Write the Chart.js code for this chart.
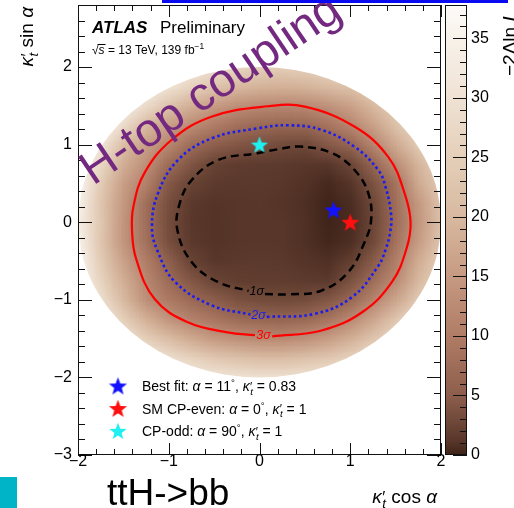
<!DOCTYPE html>
<html>
<head>
<meta charset="utf-8">
<script src="https://cdn.jsdelivr.net/npm/chart.js@4.4.0/dist/chart.umd.min.js"></script>
<style>
html, body { margin: 0; padding: 0; background: #fff; overflow: hidden; }
#wrap { position: relative; width: 514px; height: 508px; }
</style>
</head>
<body>
<div id="wrap"><canvas id="c" width="514" height="508"></canvas></div>
<script>
const FONT = '"Liberation Sans", Arial, Helvetica, sans-serif';

// -2ΔlnL scan grid: columns are κ't cos α, rows are κ't sin α (top row first)
const gridCos = [-2, -1.75, -1.5, -1.25, -1, -0.75, -0.5, -0.25, 0, 0.25, 0.5, 0.75, 1, 1.25, 1.5, 1.75, 2];
const gridSin = [2, 1.75, 1.5, 1.25, 1, 0.75, 0.5, 0.25, 0, -0.25, -0.5, -0.75, -1, -1.25, -1.5, -1.75, -2];
const nllRows = [
  [40, 40, 40, 38, 35, 32, 29, 26.5, 25, 24.5, 25.5, 27, 29.5, 32, 35, 38, 40],
  [40, 40, 38, 34, 30, 26, 22.5, 20, 19, 18.5, 19, 20.5, 22, 25, 29, 33, 37],
  [40, 38, 34, 28, 22, 18, 15, 13, 12, 11.7, 12, 13.5, 16, 20, 25, 30, 35],
  [40, 37, 28, 20, 15.5, 12.5, 9.8, 7.8, 6.8, 6.3, 6.6, 8.5, 11.5, 16, 22, 28, 34],
  [38, 31, 21, 15.5, 11.5, 7.3, 5.0, 4.2, 3.6, 3.1, 2.8, 4.4, 6.2, 11.4, 17.5, 24, 30],
  [37, 27, 18, 13, 7.3, 4.0, 2.2, 1.7, 1.6, 1.5, 1.3, 1.2, 2.6, 6.3, 12.8, 19.5, 26],
  [36, 24, 15.5, 10.5, 4.3, 2.3, 1.5, 1.4, 1.4, 1.3, 0.9, 0.4, 1.1, 3.8, 8.5, 17.5, 24],
  [35, 22.5, 14.5, 7.6, 3.4, 1.4, 1.1, 1.2, 1.3, 1.1, 0.7, 0.15, 0.6, 2.9, 7.8, 14.8, 22.5],
  [34, 23, 14, 7.5, 3.2, 1.3, 1.0, 1.2, 1.3, 1.2, 0.8, 0.1, 0.5, 2.7, 7.5, 14.5, 22],
  [35, 22.5, 14, 8, 3.4, 1.4, 1.0, 1.2, 1.3, 1.2, 0.8, 0.25, 0.7, 3.0, 8.5, 15.5, 23],
  [36, 24, 16, 10, 5.2, 2.3, 1.3, 1.4, 1.5, 1.4, 1.1, 0.8, 2.0, 4.8, 10.5, 18, 25],
  [37, 26, 18, 11.8, 7.2, 4.2, 2.5, 1.9, 1.8, 1.8, 1.6, 1.5, 3.8, 7.6, 12.6, 20, 27],
  [38, 29, 20, 13.2, 9.5, 7.0, 5.0, 3.8, 3.3, 3.1, 3.3, 4.3, 6.8, 11.5, 17, 24, 31],
  [40, 33, 25, 18.5, 14, 11, 8.8, 7.4, 6.6, 6.4, 7.0, 8.8, 12.3, 17, 23, 30, 36],
  [40, 37, 31, 25, 21, 17.5, 15, 13.5, 12.5, 12.4, 13.5, 15.5, 18.5, 23, 28, 34, 38],
  [40, 40, 37, 33, 29, 26, 23.5, 22, 21, 21, 22, 23.5, 26, 30, 34, 38, 40],
  [40, 40, 40, 38, 35, 33, 31.5, 30.5, 30, 30, 30.5, 32, 34.5, 37, 40, 40, 40]
];
const kappaMax = 2;

// colour scale of -2ΔlnL
const zStops  = [0, 1, 2.5, 5, 10, 15, 20, 25, 30, 35, 37.8];
const zColors = ['#3e2218', '#553428', '#6a4536', '#8d5e4c', '#b07c66', '#c69a82', '#d8b9a0', '#e5cfb9', '#efe2d3', '#f8f2ea', '#fdfbf8'];

// tick labels
const xTicks = [-2, -1, 0, 1, 2];
const yTicks = [-3, -2, -1, 0, 1, 2];
const zTicks = [0, 5, 10, 15, 20, 25, 30, 35];

// confidence contours (κ't cos α, κ't sin α)
const sigma1 = [[0.06,-0.925],[0.32,-0.93],[0.685,-0.88],[0.98,-0.64],[1.16,-0.25],[1.23,0.03],[1.2,0.37],[1.05,0.67],[0.8,0.89],[0.45,0.975],[0.2,0.94],[-0.02,0.89],[-0.46,0.8],[-0.75,0.54],[-0.88,0.24],[-0.905,-0.1],[-0.75,-0.51],[-0.46,-0.77],[-0.12,-0.885]];
const sigma2 = [[0.08,-1.22],[0.61,-1.18],[1.02,-0.965],[1.31,-0.56],[1.39,-0.35],[1.44,-0.125],[1.45,0.1],[1.39,0.45],[1.31,0.67],[1.05,0.97],[0.685,1.19],[0.32,1.25],[-0.02,1.21],[-0.53,1.08],[-0.9,0.8],[-1.12,0.37],[-1.185,-0.06],[-1.12,-0.38],[-0.93,-0.77],[-0.53,-1.07],[-0.1,-1.19]];
const sigma3 = [[0.14,-1.47],[0.685,-1.395],[1.13,-1.16],[1.46,-0.77],[1.62,-0.34],[1.665,0.0],[1.6,0.37],[1.42,0.84],[1.05,1.23],[0.5,1.49],[0.09,1.495],[-0.53,1.36],[-0.97,1.06],[-1.27,0.63],[-1.39,0.2],[-1.405,-0.1],[-1.36,-0.47],[-1.155,-0.99],[-0.79,-1.29],[-0.35,-1.42],[-0.05,-1.455]];
const contourLabels = [
  { text: '1σ', x: -0.03, y: -0.895, color: '#000000' },
  { text: '2σ', x: -0.01, y: -1.205, color: '#1c1cf0' },
  { text: '3σ', x: 0.045, y: -1.46, color: '#ff0000' }
];

// reference points: mixing angle (degrees) and coupling modifier
const bestFit = { alpha: 11, kappa: 0.83 };
const smEven  = { alpha: 0,  kappa: 1 };
const cpOdd   = { alpha: 90, kappa: 1 };

function polar(p) {
  const a = p.alpha * Math.PI / 180;
  return { x: p.kappa * Math.cos(a), y: p.kappa * Math.sin(a) };
}
const toXY = arr => arr.map(([x, y]) => ({ x, y }));

function hexRgb(h) { return [1, 3, 5].map(i => parseInt(h.substr(i, 2), 16)); }
const zRgb = zColors.map(hexRgb);
function zColor(v) {
  v = Math.max(zStops[0], Math.min(zStops[zStops.length - 1], v));
  let k = 0;
  while (k < zStops.length - 2 && v > zStops[k + 1]) k++;
  const t = (v - zStops[k]) / (zStops[k + 1] - zStops[k]);
  return zRgb[k].map((c, i) => Math.round(c + (zRgb[k + 1][i] - c) * t));
}

function starImage(color, r) {
  const s = Math.ceil(2 * r + 4);
  const c = document.createElement('canvas');
  c.width = c.height = s;
  const g = c.getContext('2d');
  g.translate(s / 2, s / 2 + r * 0.08);
  g.beginPath();
  for (let k = 0; k < 10; k++) {
    const rad = k % 2 ? r * 0.42 : r;
    const a = -Math.PI / 2 + k * Math.PI / 5;
    g.lineTo(rad * Math.cos(a), rad * Math.sin(a));
  }
  g.closePath();
  g.fillStyle = color;
  g.fill();
  return c;
}
const starBlue = starImage('#1212ff', 9.5);
const starRed = starImage('#ff1010', 9.5);
const starCyan = starImage('#20f0f0', 9);

// text made of styled pieces: {t, i(talic), b(old), s(cale), dy, dx, na (no advance)}
function drawRich(ctx, parts, x, y, size, align) {
  const items = parts.map(p => {
    const s = size * (p.s || 1);
    const font = (p.i ? 'italic ' : '') + (p.b ? 'bold ' : '') + s.toFixed(1) + 'px ' + FONT;
    ctx.font = font;
    const w = ctx.measureText(p.t).width;
    return { t: p.t, font, w, dy: (p.dy || 0) * size, dx: (p.dx || 0) * size, na: !!p.na };
  });
  const total = items.reduce((acc, it) => acc + (it.na ? 0 : it.w + it.dx), 0);
  let cx = align === 'right' ? x - total : align === 'center' ? x - total / 2 : x;
  ctx.textAlign = 'left';
  for (const it of items) {
    ctx.font = it.font;
    ctx.fillText(it.t, cx + it.dx, y + it.dy);
    if (!it.na) cx += it.w + it.dx;
  }
}
const kappaT = [
  { t: 'κ', i: 1 },
  { t: '′', s: 0.85, dy: -0.02, dx: 0.02, na: 1 },
  { t: 't', i: 1, s: 0.7, dy: 0.28, dx: 0.03 }
];
const fmt = v => (v < 0 ? '\u2212' + Math.abs(v) : String(v));

const heatmapPlugin = {
  id: 'nllMap',
  beforeDatasetsDraw(chart) {
    const { ctx, chartArea: a, scales: { x, y } } = chart;
    const nx = gridCos.length, ny = gridSin.length;
    const off = document.createElement('canvas');
    off.width = nx; off.height = ny;
    const g = off.getContext('2d');
    const img = g.createImageData(nx, ny);
    for (let j = 0; j < ny; j++) {
      for (let i = 0; i < nx; i++) {
        const c = zColor(nllRows[j][i]);
        const k = 4 * (j * nx + i);
        img.data[k] = c[0]; img.data[k + 1] = c[1]; img.data[k + 2] = c[2]; img.data[k + 3] = 255;
      }
    }
    g.putImageData(img, 0, 0);
    const hx = (gridCos[1] - gridCos[0]) / 2;
    const hy = (gridSin[0] - gridSin[1]) / 2;
    const x0 = x.getPixelForValue(gridCos[0] - hx), x1 = x.getPixelForValue(gridCos[nx - 1] + hx);
    const y0 = y.getPixelForValue(gridSin[0] + hy), y1 = y.getPixelForValue(gridSin[ny - 1] - hy);
    ctx.save();
    ctx.beginPath();
    ctx.rect(a.left, a.top, a.width, a.height);
    ctx.clip();
    const cx = x.getPixelForValue(0), cy = y.getPixelForValue(0);
    ctx.beginPath();
    ctx.ellipse(cx, cy, x.getPixelForValue(kappaMax) - cx, cy - y.getPixelForValue(kappaMax), 0, 0, 2 * Math.PI);
    ctx.clip();
    ctx.imageSmoothingEnabled = true;
    ctx.drawImage(off, x0, y0, x1 - x0, y1 - y0);
    ctx.restore();
  }
};

const decorPlugin = {
  id: 'decor',
  afterDatasetsDraw(chart) {
    const { ctx, scales: { x, y } } = chart;
    ctx.save();
    ctx.textBaseline = 'middle';
    for (const L of contourLabels) {
      ctx.fillStyle = L.color;
      drawRich(ctx, [{ t: L.text, i: 1 }], x.getPixelForValue(L.x), y.getPixelForValue(L.y), 12.5, 'center');
    }
    ctx.restore();
  },
  afterDraw(chart) {
    const { ctx, chartArea: a, scales: { x, y, z } } = chart;
    ctx.save();

    // frame and inward ticks
    ctx.strokeStyle = '#111';
    ctx.lineWidth = 1;
    ctx.strokeRect(a.left + 0.5, a.top + 0.5, a.width - 1, a.height - 1);
    ctx.beginPath();
    for (let k = -10; k <= 10; k++) {
      const v = k / 5, px = Math.round(x.getPixelForValue(v)) + 0.5;
      const len = k % 5 === 0 ? 12 : 6;
      ctx.moveTo(px, a.bottom); ctx.lineTo(px, a.bottom - len);
      ctx.moveTo(px, a.top); ctx.lineTo(px, a.top + len);
    }
    for (let k = -15; k <= 14; k++) {
      const v = k / 5, py = Math.round(y.getPixelForValue(v)) + 0.5;
      const len = k % 5 === 0 ? 14 : 7;
      ctx.moveTo(a.left, py); ctx.lineTo(a.left + len, py);
      ctx.moveTo(a.right, py); ctx.lineTo(a.right - len, py);
    }
    ctx.stroke();

    // tick labels
    ctx.fillStyle = '#000';
    ctx.font = '16px ' + FONT;
    ctx.textBaseline = 'middle';
    ctx.textAlign = 'right';
    for (const v of yTicks) ctx.fillText(fmt(v), a.left - 6, y.getPixelForValue(v));
    ctx.textAlign = 'center';
    ctx.textBaseline = 'alphabetic';
    for (const v of xTicks) ctx.fillText(fmt(v), x.getPixelForValue(v), a.bottom + 10.5);

    // axis titles
    drawRich(ctx, [...kappaT, { t: ' cos ' }, { t: 'α', i: 1 }], a.right - 4, 503, 19, 'right');
    ctx.save();
    ctx.translate(33, 7);
    ctx.rotate(-Math.PI / 2);
    drawRich(ctx, [...kappaT, { t: ' sin ' }, { t: 'α', i: 1 }], 0, 0, 19, 'right');
    ctx.restore();

    // colour bar
    const bl = a.right + 4, br = a.right + 26;
    for (let py = Math.floor(z.top); py < z.bottom; py++) {
      const c = zColor(z.getValueForPixel(py + 0.5));
      ctx.fillStyle = `rgb(${c[0]},${c[1]},${c[2]})`;
      ctx.fillRect(bl, py, br - bl, 1);
    }
    ctx.strokeStyle = '#111';
    ctx.strokeRect(bl + 0.5, z.top + 0.5, br - bl - 1, z.bottom - z.top - 1);
    ctx.beginPath();
    for (let v = 0; v <= 37; v++) {
      const py = Math.round(z.getPixelForValue(v)) + 0.5;
      const len = v % 5 === 0 ? 14 : 7;
      ctx.moveTo(br, py); ctx.lineTo(br - len, py);
    }
    ctx.stroke();
    ctx.fillStyle = '#000';
    ctx.font = '16px ' + FONT;
    ctx.textAlign = 'left';
    ctx.textBaseline = 'middle';
    for (const v of zTicks) ctx.fillText(String(v), br + 4, z.getPixelForValue(v));
    ctx.save();
    ctx.translate(516, 76);
    ctx.rotate(-Math.PI / 2);
    ctx.textBaseline = 'alphabetic';
    drawRich(ctx, [{ t: '\u22122Δln ' }, { t: 'L', i: 1 }], 0, 0, 19, 'left');
    ctx.restore();

    // experiment label
    ctx.fillStyle = '#000';
    ctx.textBaseline = 'alphabetic';
    drawRich(ctx, [{ t: 'ATLAS', b: 1, i: 1 }], 92, 33, 17, 'left');
    drawRich(ctx, [{ t: 'Preliminary' }], 160, 33, 17, 'left');
    ctx.font = '12px ' + FONT;
    const sx = 92;
    ctx.fillText('√', sx, 54);
    const rw = ctx.measureText('√').width;
    ctx.font = 'italic 12px ' + FONT;
    ctx.fillText('s', sx + rw, 54);
    const sw = ctx.measureText('s').width;
    ctx.fillRect(sx + rw - 1, 44, sw + 2, 1);
    drawRich(ctx, [{ t: ' = 13 TeV, 139 fb' }, { t: '\u22121', s: 0.7, dy: -0.4 }], sx + rw + sw, 54, 12, 'left');

    // legend
    const legend = [
      { img: starBlue, parts: [{ t: 'Best fit: ' }, { t: 'α', i: 1 }, { t: ' = 11' }, { t: '°', s: 0.7, dy: -0.35 }, { t: ', ' }, ...kappaT, { t: ' = 0.83' }] },
      { img: starRed, parts: [{ t: 'SM CP-even: ' }, { t: 'α', i: 1 }, { t: ' = 0' }, { t: '°', s: 0.7, dy: -0.35 }, { t: ', ' }, ...kappaT, { t: ' = 1' }] },
      { img: starCyan, parts: [{ t: 'CP-odd: ' }, { t: 'α', i: 1 }, { t: ' = 90' }, { t: '°', s: 0.7, dy: -0.35 }, { t: ', ' }, ...kappaT, { t: ' = 1' }] }
    ];
    legend.forEach((L, k) => {
      const by = 391 + k * 22.5;
      ctx.drawImage(L.img, 118 - L.img.width / 2, by - 5 - L.img.height / 2);
      ctx.fillStyle = '#000';
      drawRich(ctx, L.parts, 142, by, 14, 'left');
    });

    // page annotations
    ctx.save();
    ctx.translate(93, 186);
    ctx.rotate(-34 * Math.PI / 180);
    ctx.fillStyle = '#73297f';
    ctx.font = '47px ' + FONT;
    ctx.textAlign = 'left';
    ctx.fillText('H-top coupling', 0, 0);
    ctx.restore();

    ctx.fillStyle = '#000';
    ctx.font = '37px ' + FONT;
    ctx.textAlign = 'left';
    ctx.fillText('ttH->bb', 107, 505);
    ctx.fillStyle = '#00b4c8';
    ctx.fillRect(0, 477, 17, 31);
    ctx.fillStyle = '#0a0af0';
    ctx.fillRect(162, 0, 346, 3);

    ctx.restore();
  }
};

const bf = polar(bestFit), sm = polar(smEven), odd = polar(cpOdd);

new Chart(document.getElementById('c'), {
  type: 'scatter',
  data: {
    datasets: [
      { label: 'Best fit', data: [bf], pointStyle: starBlue, pointRadius: 10 },
      { label: 'SM CP-even', data: [sm], pointStyle: starRed, pointRadius: 10 },
      { label: 'CP-odd', data: [odd], pointStyle: starCyan, pointRadius: 10 },
      { label: '1σ', data: toXY(sigma1), showLine: true, borderColor: '#000', borderWidth: 2.5, borderDash: [8, 5], pointRadius: 0, tension: 0.4, fill: false },
      { label: '2σ', data: toXY(sigma2), showLine: true, borderColor: '#1c1cf0', borderWidth: 2.6, borderDash: [2.6, 2.8], pointRadius: 0, tension: 0.4, fill: false },
      { label: '3σ', data: toXY(sigma3), showLine: true, borderColor: '#ff0000', borderWidth: 2.2, pointRadius: 0, tension: 0.4, fill: false }
    ]
  },
  options: {
    responsive: false,
    animation: false,
    devicePixelRatio: 1,
    layout: { autoPadding: false, padding: { top: 5, left: 0, right: 0, bottom: 0 } },
    plugins: { legend: { display: false }, tooltip: { enabled: false } },
    scales: {
      x: {
        type: 'linear', position: 'bottom', min: -2, max: 2,
        grid: { display: false, drawTicks: false }, border: { display: false }, ticks: { display: false },
        afterFit(s) { s.height = 53; }
      },
      y: {
        type: 'linear', position: 'left', min: -3, max: 2.8,
        grid: { display: false, drawTicks: false }, border: { display: false }, ticks: { display: false },
        afterFit(s) { s.width = 78; }
      },
      z: {
        axis: 'y', type: 'linear', position: 'right', min: 0, max: 37.8,
        grid: { display: false, drawTicks: false }, border: { display: false }, ticks: { display: false },
        afterFit(s) { s.width = 73; }
      }
    }
  },
  plugins: [heatmapPlugin, decorPlugin]
});
</script>
</body>
</html>
